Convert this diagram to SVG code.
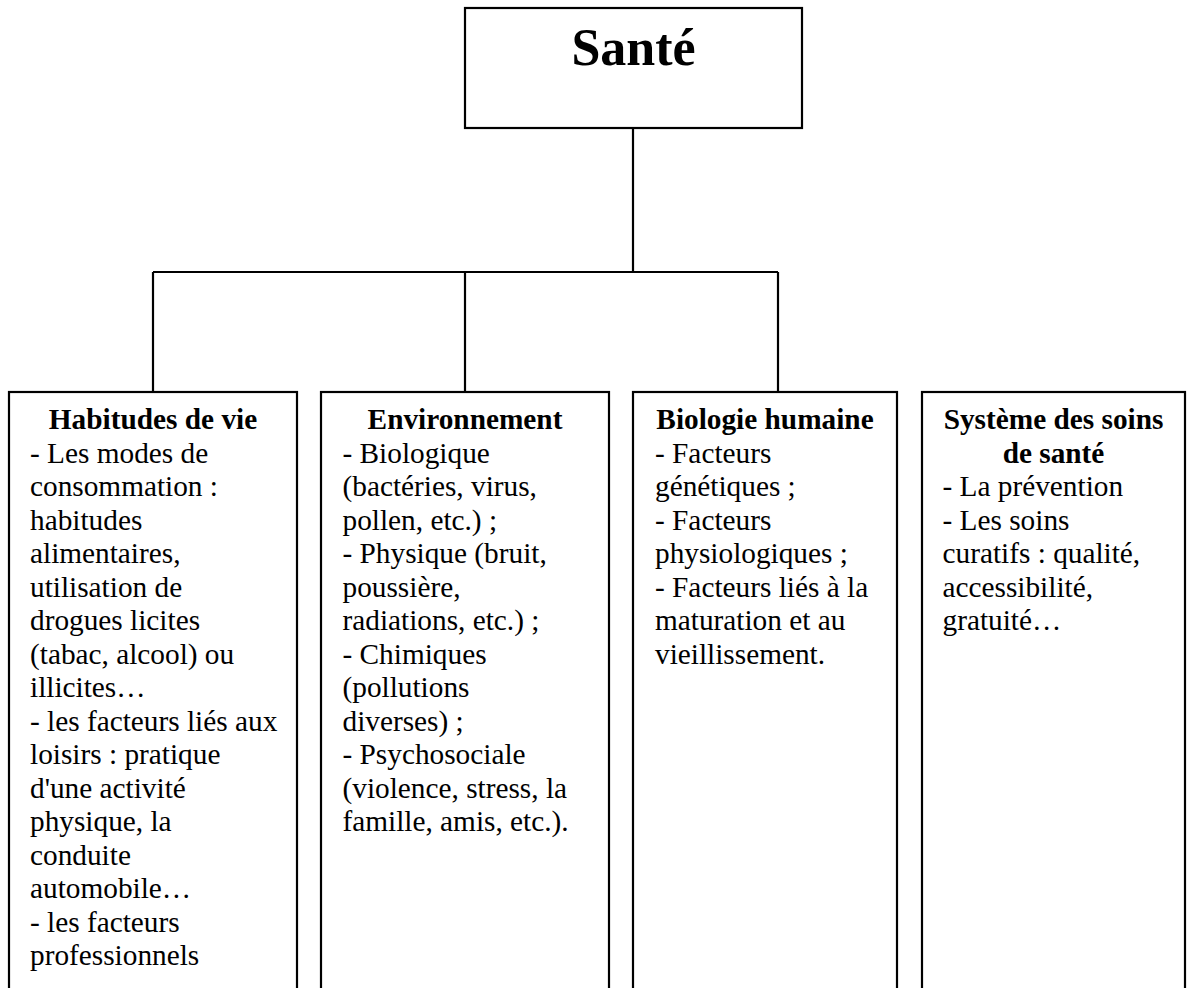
<svg xmlns="http://www.w3.org/2000/svg" width="1191" height="988" viewBox="0 0 1191 988">
<style>
.box{fill:#fff;stroke:#000;stroke-width:2.2}
.con{fill:none;stroke:#000;stroke-width:2.2}
.t{font-family:"Liberation Serif","Times New Roman",serif;font-size:29.3px;fill:#000}
.h{font-weight:bold;text-anchor:middle}
.big{font-family:"Liberation Serif","Times New Roman",serif;font-size:52px;font-weight:bold;text-anchor:middle;fill:#000}
</style>
<rect width="1191" height="988" fill="#fff"/>
<g id="connectors">
<line class="con" x1="633" y1="128" x2="633" y2="272"/>
<line class="con" x1="153" y1="272" x2="778" y2="272"/>
<line class="con" x1="153" y1="272" x2="153" y2="392"/>
<line class="con" x1="465" y1="272" x2="465" y2="392"/>
<line class="con" x1="778" y1="272" x2="778" y2="392"/>
</g>
<g id="sante">
<rect class="box" x="465" y="8" width="337" height="120"/>
<text class="big" x="633.5" y="65">Santé</text>
</g>
<g id="habitudes">
<rect class="box" x="9" y="392" width="288" height="620"/>
<text class="t h" x="153" y="429">Habitudes de vie</text>
<text class="t" x="30" y="462.5">- Les modes de<tspan x="30" dy="33.5">consommation :</tspan><tspan x="30" dy="33.5">habitudes</tspan><tspan x="30" dy="33.5">alimentaires,</tspan><tspan x="30" dy="33.5">utilisation de</tspan><tspan x="30" dy="33.5">drogues licites</tspan><tspan x="30" dy="33.5">(tabac, alcool) ou</tspan><tspan x="30" dy="33.5">illicites…</tspan><tspan x="30" dy="33.5">- les facteurs liés aux</tspan><tspan x="30" dy="33.5">loisirs : pratique</tspan><tspan x="30" dy="33.5">d'une activité</tspan><tspan x="30" dy="33.5">physique, la</tspan><tspan x="30" dy="33.5">conduite</tspan><tspan x="30" dy="33.5">automobile…</tspan><tspan x="30" dy="33.5">- les facteurs</tspan><tspan x="30" dy="33.5">professionnels</tspan></text>
</g>
<g id="environnement">
<rect class="box" x="321" y="392" width="288" height="620"/>
<text class="t h" x="465" y="429">Environnement</text>
<text class="t" x="342.5" y="462.5">- Biologique<tspan x="342.5" dy="33.5">(bactéries, virus,</tspan><tspan x="342.5" dy="33.5">pollen, etc.) ;</tspan><tspan x="342.5" dy="33.5">- Physique (bruit,</tspan><tspan x="342.5" dy="33.5">poussière,</tspan><tspan x="342.5" dy="33.5">radiations, etc.) ;</tspan><tspan x="342.5" dy="33.5">- Chimiques</tspan><tspan x="342.5" dy="33.5">(pollutions</tspan><tspan x="342.5" dy="33.5">diverses) ;</tspan><tspan x="342.5" dy="33.5">- Psychosociale</tspan><tspan x="342.5" dy="33.5">(violence, stress, la</tspan><tspan x="342.5" dy="33.5">famille, amis, etc.).</tspan></text>
</g>
<g id="biologie">
<rect class="box" x="633" y="392" width="264" height="620"/>
<text class="t h" x="765" y="429">Biologie humaine</text>
<text class="t" x="655" y="462.5">- Facteurs<tspan x="655" dy="33.5">génétiques ;</tspan><tspan x="655" dy="33.5">- Facteurs</tspan><tspan x="655" dy="33.5">physiologiques ;</tspan><tspan x="655" dy="33.5">- Facteurs liés à la</tspan><tspan x="655" dy="33.5">maturation et au</tspan><tspan x="655" dy="33.5">vieillissement.</tspan></text>
</g>
<g id="systeme">
<rect class="box" x="922" y="392" width="263" height="620"/>
<text class="t h" x="1053.5" y="429">Système des soins<tspan x="1053.5" dy="33.5">de santé</tspan></text>
<text class="t" x="942.5" y="496">- La prévention<tspan x="942.5" dy="33.5">- Les soins</tspan><tspan x="942.5" dy="33.5">curatifs : qualité,</tspan><tspan x="942.5" dy="33.5">accessibilité,</tspan><tspan x="942.5" dy="33.5">gratuité…</tspan></text>
</g>
</svg>
